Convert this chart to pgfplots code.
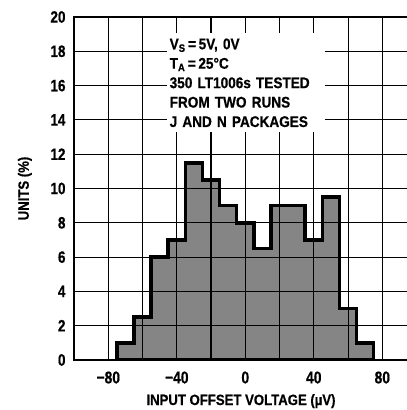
\documentclass[border=0pt]{standalone}
\usepackage{pgfplots}
\pgfplotsset{compat=1.18}
\usepackage{pgfplotstable}
\usepackage{fontspec}
\setmainfont{Liberation Sans}[FakeStretch=0.88, FakeBold=0.6]
\newfontfamily\tickfont{Liberation Sans}[FakeStretch=0.82, FakeBold=0.6]
\pgfplotstableread{
x y
-75 1
-65 2.5
-55 6
-45 7
-35 11.5
-25 10.5
-15 9
-5 8
5 6.5
15 9
25 9
35 7
45 9.5
55 3
65 1
75 1
}\histdata
\begin{document}
\begin{tikzpicture}
\begin{axis}[
  scale only axis, width=334bp, height=343bp,
  xmin=-100, xmax=95, ymin=0, ymax=20,
  axis line style={line width=1.8bp, black, -},
  xtick={-80,-40,0,40}, xticklabels={−80,−40,0,40},
  extra x ticks={80}, extra x tick labels={80},
  extra x tick style={grid=major, major grid style={line width=1.1bp, black}},
  minor xtick={-60,-20,20,60},
  ytick={0,2,...,20},
  grid=both, grid style={line width=1.1bp, black},
  minor grid style={line width=1.1bp, black},
  major tick length=0pt, minor tick length=0pt,
  axis on top,
  font=\fontsize{15}{18}\selectfont\bfseries,
  /pgf/number format/assume math mode=true,
  xticklabel style={yshift=-8bp, font=\tickfont\fontsize{17}{20}\selectfont\bfseries},
  yticklabel style={xshift=-5bp, font=\tickfont\fontsize{16.5}{20}\selectfont\bfseries},
  xlabel={INPUT OFFSET VOLTAGE (µV)},
  ylabel={UNITS (\%)},
  every axis x label/.style={at={(axis description cs:0.5,-0.12)}, anchor=center},
  every axis y label/.style={at={(axis description cs:-0.147,0.5)}, rotate=90, anchor=center},
]
\addplot[const plot, fill=black!48, draw=none] table[x=x,y=y]{\histdata} \closedcycle;
\addplot[const plot, draw=black, line width=3.5bp, line join=miter] table[x=x,y=y]{\histdata} \closedcycle;
\coordinate (txt) at (axis cs:-46,19.05);
\end{axis}
\node[anchor=north west, fill=white, inner xsep=3bp, inner ysep=5bp, align=left, text width=152bp,
  font=\fontsize{15.5}{19.5}\selectfont\bfseries] at (txt)
  {V\textsubscript{S}\,=\,5V, 0V\\
   T\textsubscript{A}\,=\,25°C\\
   350 LT1006s TESTED\\
   FROM TWO RUNS\\
   J AND N PACKAGES};
\pgfresetboundingbox
\path[use as bounding box] ([xshift=-74bp,yshift=-50bp]current axis.south west) rectangle ([xshift=-1.2bp,yshift=17bp]current axis.north east);
\end{tikzpicture}
\end{document}
